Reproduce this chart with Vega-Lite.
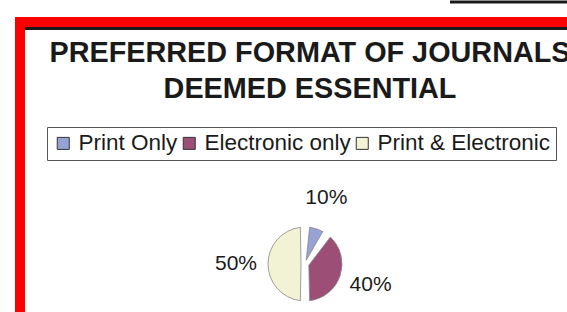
{
  "$schema": "https://vega.github.io/schema/vega-lite/v6.json",
  "autosize": {"type": "none"},
  "padding": {"left": 20, "top": 22, "right": -23, "bottom": -194},
  "width": 570,
  "height": 484,
  "background": "white",
  "title": {
    "text": ["PREFERRED FORMAT OF JOURNALS", "DEEMED ESSENTIAL"],
    "anchor": "middle",
    "frame": "group",
    "font": "Liberation Sans",
    "fontSize": 28.8,
    "fontWeight": "bold",
    "color": "#1a1a1a",
    "lineHeight": 36,
    "baseline": "alphabetic",
    "offset": 0,
    "dx": 5,
    "dy": 126.5
  },
  "data": {
    "values": [
      {"Category": "Print Only", "Share": 0.1},
      {"Category": "Electronic only", "Share": 0.4},
      {"Category": "Print & Electronic", "Share": 0.5}
    ]
  },
  "layer": [
    {
      "data": {"values": [{"Frame": "page rule"}]},
      "mark": {"type": "rect", "fill": null, "stroke": "#1a1a1a", "strokeWidth": 3, "yOffset": -20, "strokeDash": [0, 430, 200, 5000]},
      "encoding": {}
    },
    {
      "data": {"values": [{"Frame": "outer"}]},
      "mark": {"type": "rect", "fill": null, "stroke": "#1a1a1a", "strokeWidth": 6, "xOffset": 5, "yOffset": 5},
      "encoding": {}
    },
    {
      "data": {"values": [{"Frame": "outer"}]},
      "mark": {"type": "rect", "fill": null, "stroke": "#ff0000", "strokeWidth": 10},
      "encoding": {}
    },
    {
      "mark": {"type": "arc", "outerRadius": 37, "innerRadius": 4, "padAngle": 0.25, "stroke": "#888888", "strokeWidth": 0.8},
      "encoding": {
        "theta": {"field": "Share", "type": "quantitative", "stack": true},
        "order": {"field": "Share", "type": "quantitative", "sort": "ascending"},
        "color": {
          "field": "Category",
          "type": "nominal",
          "sort": ["Print Only", "Electronic only", "Print & Electronic"],
          "scale": {
            "domain": ["Print Only", "Electronic only", "Print & Electronic"],
            "range": ["#97A3D4", "#9C4E77", "#F2F2D5"]
          },
          "legend": {
            "orient": "none",
            "legendX": 27,
            "legendY": 105,
            "direction": "horizontal",
            "title": null,
            "symbolType": "square",
            "symbolSize": 144,
            "symbolStrokeColor": "#333333",
            "symbolStrokeWidth": 1,
            "labelFont": "Liberation Sans",
            "labelFontSize": 22.5,
            "labelColor": "#1a1a1a",
            "labelOffset": 4,
            "columnPadding": 0,
            "strokeColor": "#555555",
            "padding": 5,
            "fillColor": "white",
            "labelLimit": 300
          }
        }
      }
    },
    {
      "mark": {"type": "text", "radius": 69, "font": "Liberation Sans", "fontSize": 21, "fill": "#1a1a1a"},
      "encoding": {
        "theta": {"field": "Share", "type": "quantitative", "stack": true},
        "order": {"field": "Share", "type": "quantitative", "sort": "ascending"},
        "text": {"field": "Share", "type": "quantitative", "format": ".0%"}
      }
    }
  ]
}
